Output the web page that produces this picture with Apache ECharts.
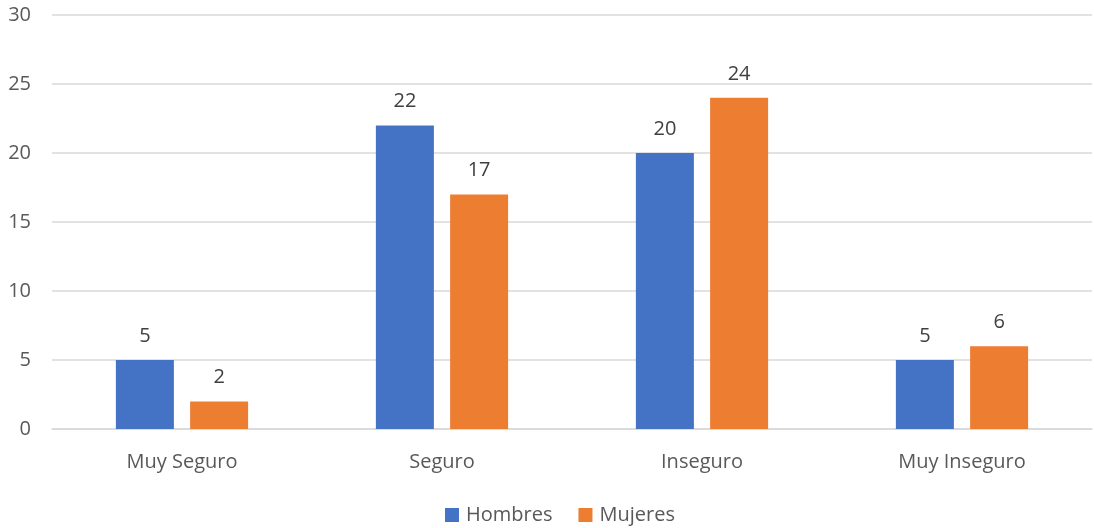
<!DOCTYPE html>
<html><head><meta charset="utf-8">
<script src="https://cdn.jsdelivr.net/npm/echarts@6/dist/echarts.min.js"></script>
<style>html,body{margin:0;padding:0;background:#fff}#c{width:1094px;height:528px}</style>
</head><body><div id="c"></div>
<script>
const categories = ['Muy Seguro', 'Seguro', 'Inseguro', 'Muy Inseguro'];
const hombres = [5, 22, 20, 5];
const mujeres = [2, 17, 24, 6];
const seriesNames = ['Hombres', 'Mujeres'];
const FONT = '"Open Sans", sans-serif';
const chart = echarts.init(document.getElementById('c'), null, {renderer: 'canvas'});
const labelStyle = {show: true, position: 'top', distance: 14, color: '#404040', fontSize: 20, fontFamily: FONT};
chart.setOption({
  animation: false,
  grid: {left: 52, right: 2, top: 15, bottom: 99, containLabel: false, outerBoundsMode: 'none'},
  legend: {
    bottom: -2, left: 440, itemWidth: 14, itemHeight: 14, itemGap: 26,
    icon: 'rect',
    textStyle: {color: '#595959', fontSize: 20, fontFamily: FONT, padding: [0, 0, 0, 2]},
    data: seriesNames
  },
  xAxis: {
    type: 'category', data: categories,
    axisLine: {lineStyle: {color: '#d9d9d9', width: 1.5}},
    axisTick: {show: false},
    axisLabel: {color: '#595959', fontSize: 20, fontFamily: FONT, margin: 23}
  },
  yAxis: {
    type: 'value', min: 0, max: 30, interval: 5,
    axisLine: {show: false}, axisTick: {show: false},
    splitLine: {lineStyle: {color: '#d9d9d9', width: 1.5}},
    axisLabel: {color: '#595959', fontSize: 20, fontFamily: FONT, margin: 21}
  },
  series: [
    {name: seriesNames[0], type: 'bar', data: hombres, barWidth: 58, barGap: '28%', itemStyle: {color: '#4472c4'}, label: labelStyle},
    {name: seriesNames[1], type: 'bar', data: mujeres, barWidth: 58, itemStyle: {color: '#ed7d31'}, label: labelStyle}
  ]
});
</script></body></html>
